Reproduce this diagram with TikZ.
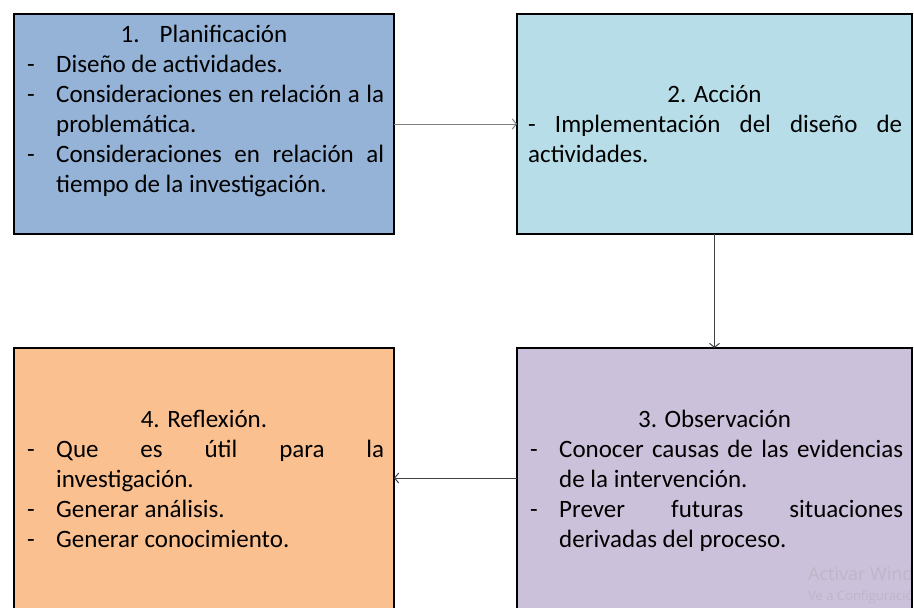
\documentclass[tikz,border=0pt]{standalone}
\usepackage{fontspec}
\setmainfont{Carlito}
\newfontfamily\wmfont{Open Sans}
\usetikzlibrary{arrows.meta}
\definecolor{cPlan}{HTML}{95B3D7}
\definecolor{cAcc}{HTML}{B7DEE8}
\definecolor{cObs}{HTML}{CCC1DA}
\definecolor{cRef}{HTML}{FAC090}
\definecolor{cArrA}{HTML}{7F7F7F}
\definecolor{cArrB}{HTML}{404040}
\definecolor{cWm}{HTML}{BDB6C8}
\newcommand\dashitem[1]{\hangindent=29pt\hangafter=1\noindent\makebox[29pt][l]{-}#1\par}
\tikzset{
  stagebox/.style={draw=black, line width=2pt, rectangle, inner sep=0pt, outer sep=0pt, anchor=north west},
  titletxt/.style={font=\fontsize{25}{30}\selectfont, inner sep=0pt, anchor=base},
  bodytxt/.style={font=\fontsize{25}{30}\selectfont, inner sep=0pt, anchor=base west, align=justify},
  flow/.style={line width=1pt, -{Straight Barb[length=4pt,width=10pt,line width=1pt]}},
}
\begin{document}
\begin{tikzpicture}[x=1pt,y=-1pt]
\useasboundingbox (0,0) rectangle (914,608);
% boxes
\node[stagebox, fill=cPlan, minimum width=380pt, minimum height=220pt] (b1) at (14,14) {};
\node[stagebox, fill=cAcc,  minimum width=395pt, minimum height=220pt] (b2) at (517,14) {};
\node[stagebox, fill=cObs,  minimum width=395pt, minimum height=292pt] (b3) at (517,348) {};
\node[stagebox, fill=cRef,  minimum width=380pt, minimum height=292pt] (b4) at (14,348) {};
% watermark
\begin{scope}
\clip (517,348) rectangle (912,608);
\node[anchor=base west, inner sep=0pt, text=cWm, font=\wmfont\fontsize{18}{20}\selectfont] (wm1) at (808,580) {Activar Windows};
\node[anchor=base west, inner sep=0pt, text=cWm, font=\wmfont\fontsize{13}{15}\selectfont] (wm2) at (808,600) {Ve a Configuración};
\end{scope}
\draw[line width=2pt] (b3.north east) -- (b3.south east);
% texts box 1
\node[titletxt] (t1) at (204,42) {1.\hspace{20pt}Planificación};
\node[bodytxt, text width=357pt] (l1) at (27,72) {\dashitem{Diseño de actividades.}\dashitem{Consideraciones en relación a la\linebreak problemática.}\dashitem{Consideraciones en relación al\linebreak tiempo de la investigación.}};
% texts box 2
\node[titletxt] (t2) at (714.5,102) {2. Acción};
\node[bodytxt, text width=374pt] (l2) at (528,132) {- Implementación del diseño de\linebreak actividades.};
% texts box 3
\node[titletxt] (t3) at (714.5,427) {3. Observación};
\node[bodytxt, text width=373pt] (l3) at (530,457) {\dashitem{Conocer causas de las evidencias\linebreak de la intervención.}\dashitem{Prever futuras situaciones\linebreak derivadas del proceso.}};
% texts box 4
\node[titletxt] (t4) at (204,427) {4. Reflexión.};
\node[bodytxt, text width=357pt] (l4) at (27,457) {\dashitem{Que es útil para la\linebreak investigación.}\dashitem{Generar análisis.}\dashitem{Generar conocimiento.}};
% connectors
\draw[flow, draw=cArrA] (b1) -- (b2);
\draw[flow, draw=cArrB] (b2) -- (b3);
\draw[flow, draw=cArrB] ([yshift=16pt]b3.west) -- ([yshift=16pt]b4.east);
\end{tikzpicture}
\end{document}
